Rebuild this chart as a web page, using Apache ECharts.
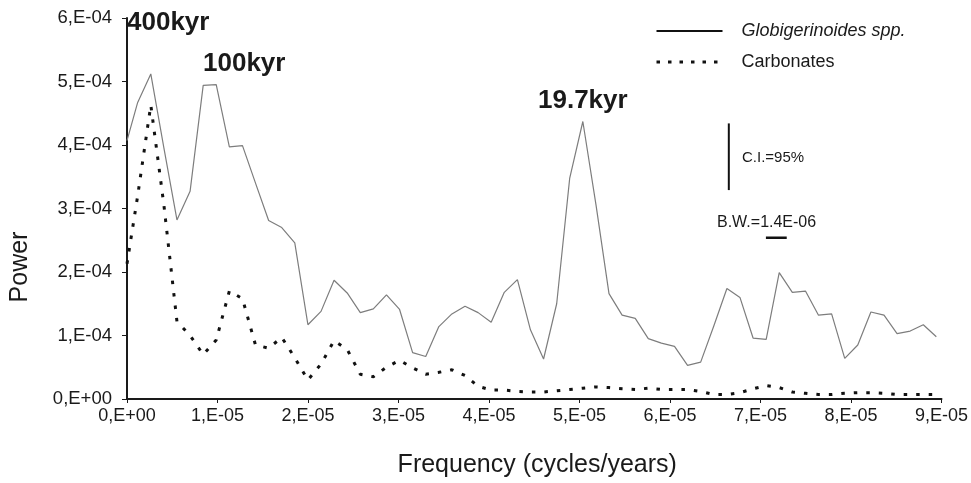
<!DOCTYPE html>
<html>
<head>
<meta charset="utf-8">
<script src="https://cdn.jsdelivr.net/npm/echarts@6/dist/echarts.min.js"></script>
<style>
html,body{margin:0;padding:0;background:#fff;}
#chart{width:971px;height:483px;}
</style>
</head>
<body>
<div id="chart"></div>
<script>
// Frequency of each spectral estimate, in units of 1E-06 cycles/years
const freqE6 = [0, 1.18, 2.63, 4.08, 5.52, 6.97, 8.42, 9.86, 11.31, 12.76,
  14.20, 15.65, 17.10, 18.54, 19.99, 21.44, 22.88, 24.33, 25.78, 27.22,
  28.67, 30.12, 31.56, 33.01, 34.46, 35.90, 37.35, 38.80, 40.24, 41.69,
  43.14, 44.58, 46.03, 47.48, 48.92, 50.37, 51.82, 53.26, 54.71, 56.16,
  57.60, 59.05, 60.50, 61.94, 63.39, 64.84, 66.29, 67.73, 69.18, 70.63,
  72.07, 73.52, 74.97, 76.41, 77.86, 79.31, 80.75, 82.20, 83.65, 85.09,
  86.54, 87.99, 89.43];

// Power, in units of 1E-04
const globigerinoidesE4 = [4.07, 4.67, 5.12, 3.95, 2.82, 3.27, 4.94, 4.95, 3.97, 3.99,
  3.40, 2.81, 2.70, 2.46, 1.17, 1.38, 1.87, 1.67, 1.36, 1.42,
  1.64, 1.41, 0.73, 0.67, 1.14, 1.34, 1.46, 1.36, 1.21, 1.68,
  1.88, 1.09, 0.63, 1.50, 3.48, 4.37, 3.06, 1.66, 1.32, 1.27,
  0.95, 0.88, 0.83, 0.53, 0.58, 1.15, 1.74, 1.60, 0.96, 0.94,
  1.99, 1.68, 1.70, 1.32, 1.34, 0.64, 0.85, 1.37, 1.32, 1.03,
  1.07, 1.17, 0.98];

const carbonatesE4 = [2.13, 3.2, 4.63, 3.05, 1.22, 1.0, 0.70, 0.93, 1.70, 1.58,
  0.85, 0.80, 0.97, 0.65, 0.30, 0.55, 0.92, 0.78, 0.39, 0.35,
  0.50, 0.61, 0.49, 0.39, 0.42, 0.46, 0.37, 0.20, 0.14, 0.14,
  0.12, 0.11, 0.11, 0.13, 0.15, 0.17, 0.19, 0.18, 0.16, 0.15,
  0.17, 0.15, 0.15, 0.15, 0.12, 0.07, 0.07, 0.10, 0.16, 0.21,
  0.18, 0.11, 0.09, 0.07, 0.07, 0.09, 0.10, 0.10, 0.09, 0.07,
  0.07, 0.07, 0.07];

const xTickLabels = ['0,E+00', '1,E-05', '2,E-05', '3,E-05', '4,E-05', '5,E-05', '6,E-05', '7,E-05', '8,E-05', '9,E-05'];
const yTickLabels = ['0,E+00', '1,E-04', '2,E-04', '3,E-04', '4,E-04', '5,E-04', '6,E-04'];

const seriesNames = ['Globigerinoides spp.', 'Carbonates'];

// Annotation bars (data units): confidence interval and bandwidth
const ciBar = { x: 66.5, yLow: 3.29, yHigh: 4.34 };
const bwBar = { xStart: 70.6, length: 2.3, y: 2.54 };

const FONT = '"Liberation Sans", Arial, sans-serif';
const INK = '#1a1a1a';

const chart = echarts.init(document.getElementById('chart'), null, { renderer: 'canvas' });

const option = {
  animation: false,
  backgroundColor: '#ffffff',
  color: ['#7d7d7d', '#111111'],
  grid: { left: 127, right: 24, top: 18, bottom: 80 },
  xAxis: {
    type: 'value', min: 0, max: 90, interval: 10,
    axisLine: { show: true, onZero: false, lineStyle: { color: INK, width: 2 } },
    axisTick: { show: true, length: 4, lineStyle: { color: INK, width: 1 } },
    axisLabel: {
      formatter: v => xTickLabels[Math.round(v / 10)],
      color: INK, fontSize: 18, fontFamily: FONT, margin: 8
    },
    splitLine: { show: false },
    name: 'Frequency (cycles/years)',
    nameLocation: 'middle', nameGap: 54,
    nameTextStyle: { fontSize: 25, color: INK, fontFamily: FONT, padding: [0, 0, 0, 6] }
  },
  yAxis: {
    type: 'value', min: 0, max: 6, interval: 1,
    axisLine: { show: true, lineStyle: { color: INK, width: 2 } },
    axisTick: { show: true, length: 5, lineStyle: { color: INK, width: 1 } },
    axisLabel: {
      formatter: v => yTickLabels[Math.round(v)],
      color: INK, fontSize: 18.5, fontFamily: FONT, margin: 15
    },
    splitLine: { show: false }
  },
  legend: {
    orient: 'vertical', left: 655, top: 22, padding: 0,
    itemWidth: 66, itemHeight: 14, itemGap: 13,
    textStyle: { fontSize: 18, color: INK, fontFamily: FONT, padding: [0, 0, 3, 14] },
    data: [
      { name: seriesNames[0], textStyle: { fontStyle: 'italic' },
        itemStyle: { opacity: 0 },
        lineStyle: { color: '#111', width: 2, type: 'solid' } },
      { name: seriesNames[1],
        itemStyle: { opacity: 0 },
        lineStyle: { color: '#111', width: 3, type: [3.5, 8] } }
    ]
  },
  series: [
    {
      name: seriesNames[0], type: 'line', symbol: 'none', showSymbol: false, z: 2,
      data: freqE6.map((f, i) => [f, globigerinoidesE4[i]]),
      itemStyle: { color: '#7d7d7d' },
      lineStyle: { color: '#7d7d7d', width: 1.2 }
    },
    {
      name: seriesNames[1], type: 'line', symbol: 'none', showSymbol: false, z: 3,
      data: freqE6.map((f, i) => [f, carbonatesE4[i]]),
      itemStyle: { color: '#111' },
      lineStyle: { color: '#111', width: 3, type: [3.5, 9], cap: 'butt' }
    },
    {
      name: 'CI', type: 'line', symbol: 'none', silent: true,
      data: [[ciBar.x, ciBar.yLow], [ciBar.x, ciBar.yHigh]],
      lineStyle: { color: '#111', width: 2 }
    },
    {
      name: 'BW', type: 'line', symbol: 'none', silent: true,
      data: [[bwBar.xStart, bwBar.y], [bwBar.xStart + bwBar.length, bwBar.y]],
      lineStyle: { color: '#111', width: 2.5 }
    }
  ],
  graphic: [
    { type: 'text', x: 127, y: 23, style: { text: '400kyr', fill: INK, font: 'bold 26px ' + FONT, align: 'left', verticalAlign: 'middle' } },
    { type: 'text', x: 203, y: 64, style: { text: '100kyr', fill: INK, font: 'bold 26px ' + FONT, align: 'left', verticalAlign: 'middle' } },
    { type: 'text', x: 538, y: 101, style: { text: '19.7kyr', fill: INK, font: 'bold 26px ' + FONT, align: 'left', verticalAlign: 'middle' } },
    { type: 'text', x: 742, y: 158, style: { text: 'C.I.=95%', fill: INK, font: '15px ' + FONT, align: 'left', verticalAlign: 'middle' } },
    { type: 'text', x: 717, y: 223, style: { text: 'B.W.=1.4E-06', fill: INK, font: '16px ' + FONT, align: 'left', verticalAlign: 'middle' } },
    { type: 'text', x: 20, y: 267, rotation: Math.PI / 2, style: { text: 'Power', fill: INK, font: '25px ' + FONT, align: 'center', verticalAlign: 'middle' } }
  ]
};

chart.setOption(option);
</script>
</body>
</html>
